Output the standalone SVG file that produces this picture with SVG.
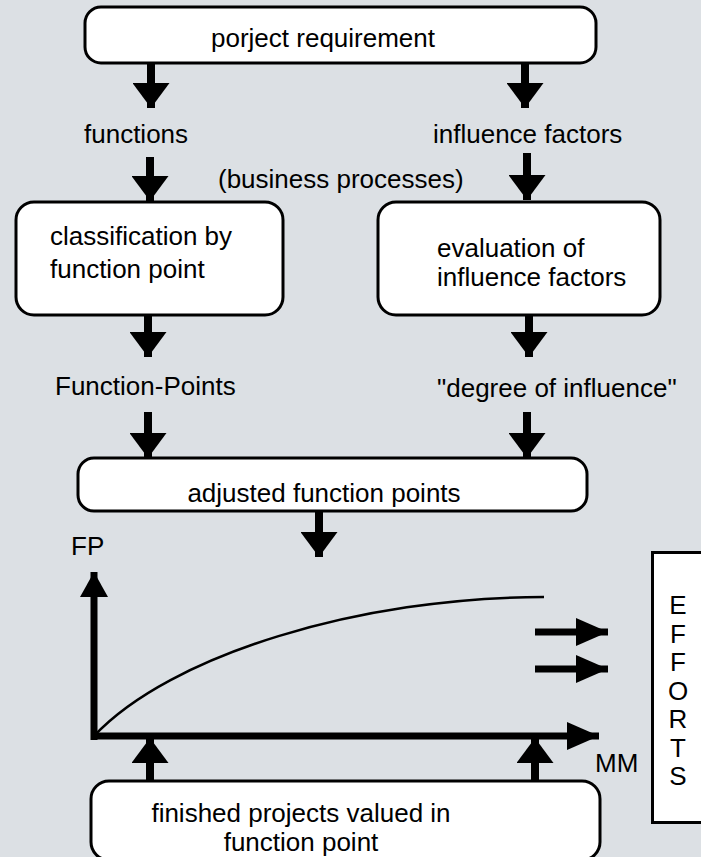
<svg xmlns="http://www.w3.org/2000/svg" width="701" height="857" viewBox="0 0 701 857">
  <style>
    .box { fill: #ffffff; stroke: #000000; stroke-width: 3; }
    .lbl { font-family: "Liberation Sans", Arial, sans-serif; font-size: 26px; fill: #000000; }
    .mid { text-anchor: middle; }
    .arr { stroke: #000000; stroke-width: 8; fill: none; }
    .arrh { stroke: #000000; stroke-width: 7; fill: none; }
  </style>
  <defs>
    <marker id="head-v" markerUnits="userSpaceOnUse" markerWidth="25" markerHeight="37" refX="25" refY="18.5" orient="auto">
      <path d="M0,0 L25,18.5 L0,37 z" fill="#000000"/>
    </marker>
    <marker id="head-h" markerUnits="userSpaceOnUse" markerWidth="32" markerHeight="28" refX="32" refY="14" orient="auto">
      <path d="M0,0 L32,14 L0,28 z" fill="#000000"/>
    </marker>
    <marker id="head-y" markerUnits="userSpaceOnUse" markerWidth="25" markerHeight="28" refX="25" refY="14" orient="auto">
      <path d="M0,0 L25,14 L0,28 z" fill="#000000"/>
    </marker>
  </defs>

  <rect x="0" y="0" width="701" height="857" fill="#dce0e4"/>

  <!-- connectors -->
  <g id="connectors">
    <line class="arr" x1="151" y1="63" x2="151" y2="108" marker-end="url(#head-v)"/>
    <line class="arr" x1="525" y1="63" x2="525" y2="108" marker-end="url(#head-v)"/>
    <line class="arr" x1="150" y1="157" x2="150" y2="201" marker-end="url(#head-v)"/>
    <line class="arr" x1="527" y1="153" x2="527" y2="200" marker-end="url(#head-v)"/>
    <line class="arr" x1="148" y1="315" x2="148" y2="357" marker-end="url(#head-v)"/>
    <line class="arr" x1="529" y1="315" x2="529" y2="357" marker-end="url(#head-v)"/>
    <line class="arr" x1="148" y1="412" x2="148" y2="458" marker-end="url(#head-v)"/>
    <line class="arr" x1="527" y1="412" x2="527" y2="458" marker-end="url(#head-v)"/>
    <line class="arr" x1="319" y1="511" x2="319" y2="557" marker-end="url(#head-v)"/>
    <!-- graph axes -->
    <line class="arrh" x1="94" y1="740" x2="94" y2="572" marker-end="url(#head-y)"/>
    <line class="arrh" x1="91" y1="736" x2="599" y2="736" marker-end="url(#head-h)"/>
    <path d="M94,736 C170,655 360,597 544,597" fill="none" stroke="#000000" stroke-width="2.5"/>
    <!-- result arrows -->
    <line class="arrh" x1="535" y1="632" x2="608" y2="632" marker-end="url(#head-h)"/>
    <line class="arrh" x1="535" y1="669" x2="608" y2="669" marker-end="url(#head-h)"/>
    <!-- feedback from finished projects -->
    <line class="arr" x1="150" y1="781" x2="150" y2="738" marker-end="url(#head-v)"/>
    <line class="arr" x1="535" y1="781" x2="535" y2="738" marker-end="url(#head-v)"/>
  </g>

  <g id="project-requirement">
    <rect class="box" x="85" y="7" width="511" height="56" rx="16"/>
    <text class="lbl mid" x="323" y="47">porject requirement</text>
  </g>

  <g id="functions">
    <text class="lbl" x="84" y="143">functions</text>
    <text class="lbl" x="218" y="188">(business processes)</text>
  </g>

  <g id="influence-factors">
    <text class="lbl" x="433" y="143">influence factors</text>
  </g>

  <g id="classification">
    <rect class="box" x="16" y="202" width="267" height="113" rx="18"/>
    <text class="lbl" x="50" y="245">classification by</text>
    <text class="lbl" x="50" y="278">function point</text>
  </g>

  <g id="evaluation">
    <rect class="box" x="378" y="202" width="282" height="113" rx="18"/>
    <text class="lbl" x="437" y="257">evaluation of</text>
    <text class="lbl" x="437" y="286">influence factors</text>
  </g>

  <g id="function-points">
    <text class="lbl" x="55" y="395">Function-Points</text>
  </g>

  <g id="degree-of-influence">
    <text class="lbl" x="437" y="397">"degree of influence"</text>
  </g>

  <g id="adjusted-function-points">
    <rect class="box" x="78" y="458" width="509" height="53" rx="16"/>
    <text class="lbl mid" x="324" y="502">adjusted function points</text>
  </g>

  <g id="graph-labels">
    <text class="lbl" x="71" y="555">FP</text>
    <text class="lbl" x="595" y="772">MM</text>
  </g>

  <g id="efforts">
    <rect x="652.5" y="552.5" width="60" height="270" fill="#ffffff" stroke="#000000" stroke-width="3"/>
    <text class="lbl mid" x="678" y="614">E</text>
    <text class="lbl mid" x="678" y="642.5">F</text>
    <text class="lbl mid" x="678" y="671">F</text>
    <text class="lbl mid" x="678" y="699.5">O</text>
    <text class="lbl mid" x="678" y="728">R</text>
    <text class="lbl mid" x="678" y="756.5">T</text>
    <text class="lbl mid" x="678" y="785">S</text>
  </g>

  <g id="finished-projects">
    <rect class="box" x="91" y="781" width="509" height="79" rx="18"/>
    <text class="lbl mid" x="301" y="822">finished projects valued in</text>
    <text class="lbl mid" x="301" y="851">function point</text>
  </g>
</svg>
